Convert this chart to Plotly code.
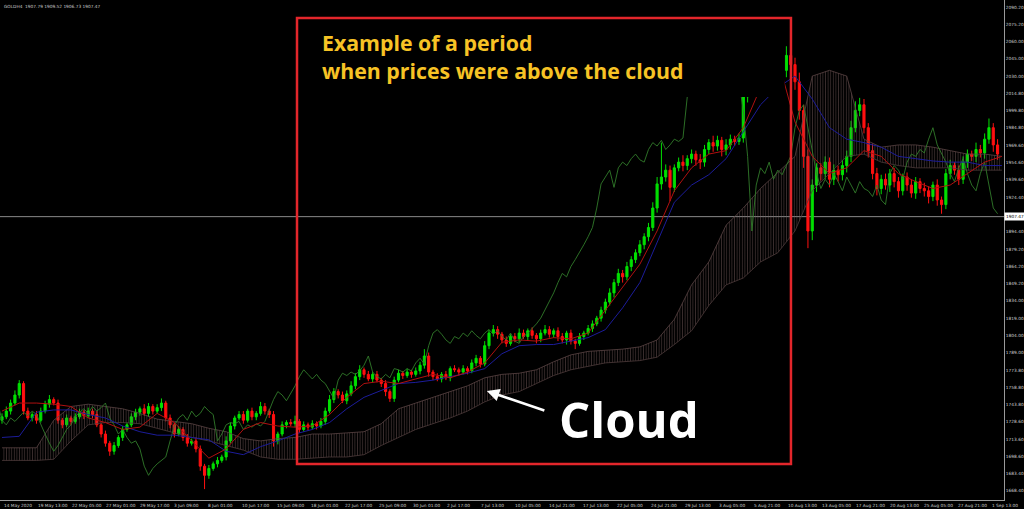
import plotly.graph_objects as go

# ---------------- data ----------------
# one candle = two H4 bars
close = [1733, 1738, 1745, 1752, 1762, 1738, 1732, 1735, 1730, 1738,
         1744, 1748, 1745, 1730, 1726, 1732, 1729, 1733, 1737, 1734,
         1738, 1735, 1726, 1718, 1710, 1703, 1708, 1715, 1722, 1726,
         1733, 1737, 1740, 1736, 1742, 1738, 1741, 1745, 1732, 1726,
         1718, 1722, 1715, 1710, 1712, 1705, 1690, 1682, 1688, 1692,
         1695, 1698, 1712, 1725, 1732, 1735, 1730, 1738, 1733, 1736,
         1742, 1738, 1735, 1712, 1718, 1726, 1728, 1727, 1729, 1722,
         1726, 1724, 1727, 1725, 1729, 1738, 1748, 1755, 1752, 1747,
         1753, 1760, 1768, 1774, 1770, 1766, 1770, 1765, 1762, 1755,
         1749, 1765, 1771, 1769, 1772, 1770, 1773, 1778, 1786, 1772,
         1768, 1766, 1770, 1767, 1775, 1774, 1772, 1775, 1773, 1780,
         1784, 1779, 1795, 1806, 1809, 1805, 1800, 1797, 1803, 1801,
         1806, 1803, 1808, 1804, 1801, 1806, 1809, 1805, 1808, 1803,
         1800, 1806, 1799, 1797, 1803, 1806, 1810, 1814, 1819, 1826,
         1833, 1841, 1850, 1858, 1855, 1864, 1870, 1876, 1883, 1890,
         1898, 1915, 1936, 1942, 1948, 1933, 1950, 1955, 1952, 1958,
         1962, 1957, 1955, 1966, 1972, 1969, 1974, 1966, 1970, 1975,
         1973, 1976, 2012, 2020, 2018, 2032, 2040, 2050, 2062, 2058,
         2066, 2035, 2048, 2040, 2025, 2000, 1960, 1895, 1935, 1950,
         1945, 1955, 1940, 1948, 1944, 1952, 1960, 1985, 2000, 2005,
         1985, 1965, 1945, 1932, 1940, 1935, 1945, 1938, 1930, 1942,
         1935, 1928, 1938, 1932, 1930, 1925, 1935, 1922, 1918, 1945,
         1952, 1948, 1940, 1955, 1962, 1960, 1966, 1963, 1975, 1985,
         1970, 1962]
first_open = 1730
upper_wick = [3, 4, 3, 4, 3, 2, 3, 2, 3, 3, 3, 4, 2, 3, 2, 3, 2, 3, 3, 2,
              3, 2, 3, 2, 3, 2, 3, 2, 3, 2, 3, 3, 2, 4, 3, 2, 3, 4, 2, 3,
              2, 3, 2, 3, 2, 3, 3, 2, 3, 2, 3, 2, 4, 3, 2, 3, 3, 2, 3, 2,
              4, 3, 2, 3, 2, 3, 2, 3, 5, 2, 3, 2, 3, 2, 3, 3, 4, 3, 2, 3,
              3, 4, 3, 4, 2, 3, 2, 3, 2, 3, 2, 3, 3, 2, 3, 2, 3, 3, 6, 3,
              2, 3, 2, 3, 2, 3, 2, 3, 2, 3, 3, 2, 4, 3, 4, 3, 2, 3, 2, 3,
              4, 3, 2, 3, 2, 3, 4, 3, 2, 3, 3, 2, 3, 2, 3, 2, 3, 3, 2, 3,
              3, 4, 3, 4, 3, 4, 3, 3, 4, 3, 4, 5, 6, 30, 5, 4, 3, 4, 6, 3,
              4, 3, 5, 4, 3, 6, 4, 3, 5, 4, 3, 4, 5, 5, 4, 5, 6, 12, 8, 6,
              5, 6, 8, 5, 6, 8, 5, 6, 5, 4, 4, 5, 4, 5, 4, 5, 5, 6, 8, 6,
              5, 4, 6, 5, 4, 5, 4, 5, 4, 3, 4, 5, 4, 3, 5, 4, 3, 5, 3, 4,
              5, 3, 4, 5, 4, 3, 6, 4, 5, 8, 4, 5]
lower_wick = [3, 2, 3, 2, 3, 3, 2, 3, 3, 2, 2, 3, 2, 3, 3, 2, 3, 2, 2, 3,
              2, 3, 2, 3, 3, 4, 3, 2, 3, 2, 2, 3, 3, 2, 3, 3, 2, 3, 3, 3,
              3, 2, 3, 3, 2, 3, 4, 12, 3, 2, 3, 2, 3, 2, 3, 2, 3, 2, 3, 3,
              2, 3, 3, 5, 3, 2, 3, 2, 3, 3, 2, 3, 2, 3, 2, 3, 2, 3, 3, 2,
              3, 2, 3, 3, 3, 2, 3, 2, 3, 4, 3, 3, 2, 3, 2, 3, 2, 3, 3, 4,
              3, 2, 3, 2, 3, 2, 3, 2, 3, 2, 3, 3, 2, 3, 3, 4, 3, 3, 2, 3,
              3, 2, 3, 3, 4, 3, 2, 3, 3, 4, 3, 4, 3, 5, 2, 3, 2, 3, 2, 3,
              3, 3, 4, 3, 5, 3, 4, 3, 3, 4, 4, 3, 4, 5, 4, 12, 4, 3, 5, 4,
              4, 5, 6, 4, 4, 5, 4, 6, 5, 4, 4, 3, 4, 5, 6, 5, 6, 7, 6, 8,
              5, 8, 6, 8, 7, 8, 10, 15, 8, 6, 6, 5, 7, 5, 6, 5, 6, 5, 4, 5,
              5, 6, 5, 6, 5, 4, 6, 5, 6, 4, 5, 4, 5, 4, 5, 6, 4, 5, 8, 4,
              5, 4, 5, 4, 5, 4, 5, 4, 5, 4, 6, 5]
# closes after the visible window (seen only through the lagging green line)
later_close = [1955, 1945, 1938, 1950, 1958, 1945, 1935, 1930, 1945, 1955,
               1935, 1915, 1910]

# Ichimoku lines, read every 4 candles
line_idx = list(range(0, 233, 4))
tenkan = [1738, 1745, 1745, 1744, 1742, 1732, 1728, 1722, 1724, 1736,
          1728, 1712, 1697, 1705, 1722, 1728, 1725, 1724, 1725, 1735,
          1750, 1762, 1764, 1762, 1766, 1770, 1767, 1772, 1780, 1798,
          1800, 1799, 1802, 1801, 1806, 1826, 1845, 1866, 1895, 1930,
          1950, 1962, 1965, 1985, 2020, 2045, 1990, 1960, 1945, 1950,
          1965, 1960, 1945, 1938, 1932, 1935, 1945, 1955, 1960]
kijun = [1715, 1716, 1737, 1739, 1739, 1735, 1732, 1725, 1720, 1717,
         1717, 1715, 1713, 1703, 1700, 1707, 1712, 1718, 1722, 1728,
         1740, 1750, 1756, 1762, 1763, 1765, 1768, 1771, 1775, 1788,
         1795, 1796, 1796, 1799, 1802, 1809, 1828, 1850, 1885, 1920,
         1935, 1944, 1958, 1982, 2005, 2020, 2030, 2010, 1985, 1975,
         1972, 1968, 1960, 1958, 1956, 1955, 1955, 1952, 1952]
senkou_a = [1706, 1706, 1706, 1730, 1742, 1744, 1742, 1740, 1736, 1731,
            1729, 1727, 1723, 1720, 1714, 1712, 1714, 1715, 1718, 1718,
            1719, 1720, 1727, 1740, 1745, 1750, 1755, 1760, 1767, 1770,
            1771, 1774, 1781, 1787, 1790, 1791, 1792, 1794, 1800, 1818,
            1848, 1868, 1900, 1915, 1932, 1946, 1960, 2030, 2035, 2030,
            1975, 1968, 1970, 1970, 1968, 1965, 1962, 1962, 1960]
senkou_b = [1695, 1695, 1695, 1696, 1712, 1726, 1728, 1728, 1727, 1723,
            1719, 1715, 1712, 1708, 1704, 1698, 1696, 1696, 1697, 1698,
            1698, 1700, 1708, 1715, 1722, 1727, 1732, 1738, 1746, 1752,
            1755, 1762, 1769, 1774, 1777, 1780, 1781, 1782, 1785, 1796,
            1808, 1830, 1848, 1854, 1868, 1876, 1895, 1930, 1945, 1960,
            1962, 1955, 1952, 1950, 1950, 1950, 1948, 1948, 1948]

chikou_shift = 13
label_step = 7.905   # candles between two time labels, as measured on the axis
time_labels = ["14 May 2020", "19 May 13:00", "22 May 05:00", "27 May 01:00",
               "29 May 17:00", "3 Jun 09:00", "8 Jun 01:00", "10 Jun 17:00",
               "15 Jun 09:00", "18 Jun 01:00", "22 Jun 17:00", "25 Jun 09:00",
               "30 Jun 01:00", "2 Jul 17:00", "7 Jul 13:00", "10 Jul 05:00",
               "14 Jul 21:00", "17 Jul 13:00", "22 Jul 05:00", "24 Jul 21:00",
               "29 Jul 13:00", "3 Aug 05:00", "5 Aug 21:00", "10 Aug 13:00",
               "13 Aug 05:00", "17 Aug 21:00", "20 Aug 13:00", "25 Aug 05:00",
               "27 Aug 21:00", "1 Sep 13:00"]
price_ticks = [2090.20, 2075.20, 2060.00, 2045.00, 2030.00, 2014.80, 1999.80,
               1984.80, 1969.60, 1954.60, 1939.60, 1924.40, 1894.40, 1879.20,
               1864.20, 1849.20, 1834.00, 1819.00, 1804.00, 1789.00, 1773.80,
               1758.80, 1743.80, 1728.60, 1713.60, 1698.60, 1683.40, 1668.40]
last_price = 1907.47
header = "GOLDH4  1907.79 1909.52 1906.73 1907.47"

# ---------------- build ----------------
n = len(close)
bars = list(range(n))
opens = [first_open] + close[:-1]
highs = [max(o, c) + u for o, c, u in zip(opens, close, upper_wick)]
lows = [min(o, c) - l for o, c, l in zip(opens, close, lower_wick)]
all_close = close + later_close
chikou_x = [i - chikou_shift for i in range(len(all_close))]

fig = go.Figure()
fig.add_trace(go.Scatter(x=line_idx, y=senkou_b, mode="lines",
                         line=dict(color="#4e3b3b", width=0.8), hoverinfo="skip"))
fig.add_trace(go.Scatter(x=line_idx, y=senkou_a, mode="lines",
                         line=dict(color="#5a4444", width=0.8), fill="tonexty",
                         fillcolor="rgba(0,0,0,0)",
                         fillpattern=dict(shape="|", fgcolor="#765c5c",
                                          bgcolor="rgba(0,0,0,0)", size=2.6, solidity=0.32),
                         hoverinfo="skip"))
fig.add_trace(go.Scatter(x=chikou_x, y=all_close, mode="lines",
                         line=dict(color="#317a2a", width=0.9)))
fig.add_trace(go.Scatter(x=line_idx, y=kijun, mode="lines",
                         line=dict(color="#1c1c9a", width=1)))
fig.add_trace(go.Scatter(x=line_idx, y=tenkan, mode="lines",
                         line=dict(color="#b01010", width=1)))
fig.add_trace(go.Candlestick(
    x=bars, open=opens, high=highs, low=lows, close=close, whiskerwidth=0,
    increasing=dict(line=dict(color="#00e000", width=1), fillcolor="#00e000"),
    decreasing=dict(line=dict(color="#ff1010", width=1), fillcolor="#ff1010")))

tick_font = dict(size=4.3, color="#cfcfcf", family="DejaVu Sans")
fig.update_layout(
    width=1024, height=509, showlegend=False,
    margin=dict(l=0, r=20, t=0, b=9, autoexpand=False),
    paper_bgcolor="black", plot_bgcolor="black",
    xaxis=dict(range=[-0.464, 232.49], rangeslider=dict(visible=False),
               showgrid=False, zeroline=False, showline=True, linecolor="#9a9a9a",
               linewidth=1, automargin=False, showticklabels=False, ticks=""),
    yaxis=dict(range=[1660.5, 2096.3], side="right", showgrid=False, zeroline=False,
               showline=True, linecolor="#9a9a9a", linewidth=1, automargin=False,
               tickvals=price_ticks, ticktext=[f"{v:.2f}" for v in price_ticks],
               ticks="", tickfont=tick_font),
)

# time labels start at their bar, as the terminal draws them
for k, lab in enumerate(time_labels):
    fig.add_annotation(xref="x", yref="paper", x=label_step * k, y=0,
                       xanchor="left", yanchor="top", yshift=-1, text=lab,
                       showarrow=False, font=tick_font)

shapes = [
    dict(type="line", xref="paper", x0=0, x1=1, yref="y", y0=last_price, y1=last_price,
         line=dict(color="#8a8a8a", width=1), layer="below"),
    dict(type="rect", xref="x", yref="y", x0=69, x1=181.6, y0=2011.8, y1=2072.8,
         fillcolor="black", line=dict(width=0), layer="above"),
    dict(type="rect", xref="x", yref="y", x0=68.45, x1=183.06, y0=1691.9, y1=2080.6,
         line=dict(color="#e3262b", width=2.5), layer="above"),
]
fig.update_layout(shapes=shapes)

fig.add_annotation(xref="paper", yref="y", x=1.0, y=last_price, xanchor="left",
                   text=f"{last_price:.2f}", showarrow=False, bgcolor="white",
                   font=dict(size=4.3, color="black", family="DejaVu Sans"), borderpad=1)
fig.add_annotation(xref="paper", yref="paper", x=0.002, y=0.997, xanchor="left",
                   yanchor="top", text=header, showarrow=False,
                   font=dict(size=4.3, color="#c8c8c8", family="DejaVu Sans"))
fig.add_annotation(xref="x", yref="y", x=73.8, y=2047.4, xanchor="left", yanchor="middle",
                   text="Example of a period<br>when prices were above the cloud",
                   showarrow=False, align="left",
                   font=dict(size=21.3, color="#f7c325", family="Open Sans", weight="bold"))
fig.add_annotation(xref="x", yref="y", x=128.8, y=1731.4, xanchor="left", yanchor="middle",
                   text="Cloud", showarrow=False,
                   font=dict(size=49, color="white", family="Open Sans", weight="bold"))
fig.add_annotation(xref="x", yref="y", x=112.5, y=1755.5, ax=59, ay=20, text="",
                   showarrow=True, arrowhead=2, arrowsize=1, arrowwidth=2.5,
                   arrowcolor="white")

fig.write_html("out.html", config={"displayModeBar": False},
               post_script="document.body.style.margin='0px';"
                           "document.body.style.background='black';")
